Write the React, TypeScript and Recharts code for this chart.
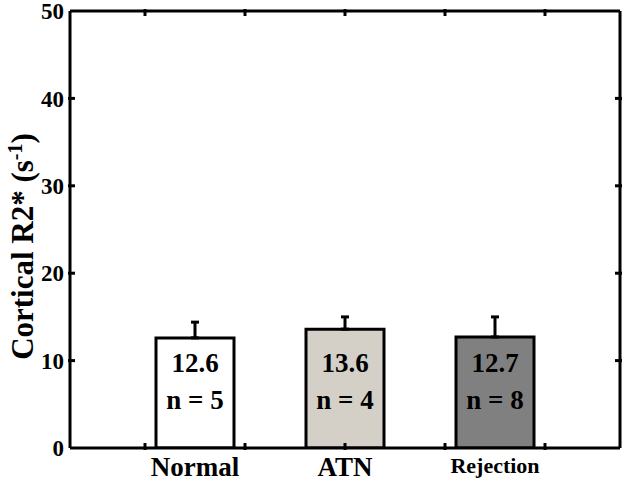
import React from 'react';
import { BarChart, Bar, XAxis, YAxis, ErrorBar, LabelList, Cell, Label } from 'recharts';

// group names and measured values
const categories = ['Normal', 'ATN', 'Rejection'];
const xPositions = [1.5, 3, 4.5];
const means = [12.6, 13.6, 12.7];
const errUp = [1.8, 1.4, 2.3];
const counts = [5, 4, 8];
const barColors = ['#ffffff', '#d4d0c8', '#808080'];
const catFontSizes = [27, 27, 22];

const yTicks = [0, 10, 20, 30, 40, 50];
const xMarks = [1, 2, 3, 4, 5];

const data = categories.map((name, i) => ({
  name,
  x: xPositions[i],
  mean: means[i],
  err: [0, errUp[i]],
  n: counts[i],
}));

const FONT = '"Liberation Serif", "Times New Roman", serif';
const MARK = 7;

function BottomMark({ x, y }: any) {
  return <line x1={x} y1={y} x2={x} y2={y - MARK} stroke="#000" strokeWidth={3} />;
}

function TopMark({ x, y }: any) {
  return <line x1={x} y1={y} x2={x} y2={y + MARK} stroke="#000" strokeWidth={3} />;
}

function LeftTick({ x, y, payload }: any) {
  const v = payload.value;
  return (
    <g>
      {v > 0 && v < 50 && <line x1={x} y1={y} x2={x + MARK} y2={y} stroke="#000" strokeWidth={3} />}
      <text x={x - 4} y={y} dy="0.36em" textAnchor="end" fontFamily={FONT} fontWeight="bold" fontSize={23} fill="#000">
        {v}
      </text>
    </g>
  );
}

function RightMark({ x, y, payload }: any) {
  const v = payload.value;
  if (v <= 0 || v >= 50) return <g />;
  return <line x1={x} y1={y} x2={x - MARK} y2={y} stroke="#000" strokeWidth={3} />;
}

function InsideLabel({ x, y, width, height, index }: any) {
  const cx = x + width / 2;
  const bottom = y + height;
  return (
    <g fontFamily={FONT} fontWeight="bold" fontSize={27} fill="#000" textAnchor="middle">
      <text x={cx} y={bottom - 76}>{means[index].toFixed(1)}</text>
      <text x={cx} y={bottom - 39}>{`n = ${counts[index]}`}</text>
    </g>
  );
}

function CategoryLabel({ x, y, width, height, index }: any) {
  const cx = x + width / 2;
  const bottom = y + height;
  return (
    <text x={cx} y={bottom + (index === 2 ? 25 : 28)} textAnchor="middle" fontFamily={FONT} fontWeight="bold" fontSize={catFontSizes[index]} fill="#000">
      {categories[index]}
    </text>
  );
}

function YTitle({ viewBox }: any) {
  const cx = viewBox.x + 22;
  const cy = viewBox.y + viewBox.height / 2 + 17;
  return (
    <text transform={`translate(${cx},${cy}) rotate(-90)`} textAnchor="middle" dy="0.35em" fontFamily={FONT} fontWeight="bold" fontSize={31} fill="#000">
      <tspan>Cortical R2* (s</tspan>
      <tspan dy={-11} fontSize={20}>-1</tspan>
      <tspan dy={11}>)</tspan>
    </text>
  );
}

export default function App() {
  return (
    <div style={{ position: 'absolute', left: 0, top: 0, background: '#fff' }}>
      <BarChart width={626} height={483} data={data} margin={{ top: 5, right: 0, bottom: 0, left: 0 }}>
        <XAxis
          dataKey="x"
          type="number"
          domain={[0.25, 5.75]}
          allowDataOverflow
          ticks={xMarks}
          interval={0}
          height={35}
          tickSize={0}
          tickLine={false}
          axisLine={{ stroke: '#000', strokeWidth: 3 }}
          tick={<BottomMark />}
        />
        <XAxis
          xAxisId="top"
          dataKey="x"
          orientation="top"
          type="number"
          domain={[0.25, 5.75]}
          allowDataOverflow
          ticks={xMarks}
          interval={0}
          height={6}
          tickSize={0}
          tickLine={false}
          axisLine={{ stroke: '#000', strokeWidth: 3 }}
          tick={<TopMark />}
        />
        <YAxis
          type="number"
          domain={[0, 50]}
          allowDataOverflow
          ticks={yTicks}
          interval={0}
          width={70}
          tickSize={0}
          tickLine={false}
          axisLine={{ stroke: '#000', strokeWidth: 3 }}
          tick={<LeftTick />}
        >
          <Label content={<YTitle />} />
        </YAxis>
        <YAxis
          yAxisId="right"
          dataKey="mean"
          orientation="right"
          type="number"
          domain={[0, 50]}
          allowDataOverflow
          ticks={yTicks}
          interval={0}
          width={6}
          tickSize={0}
          tickLine={false}
          axisLine={{ stroke: '#000', strokeWidth: 3 }}
          tick={<RightMark />}
        />
        <Bar dataKey="mean" barSize={78} stroke="#000" strokeWidth={3} isAnimationActive={false}>
          {data.map((d, i) => (
            <Cell key={d.name} fill={barColors[i]} />
          ))}
          <ErrorBar dataKey="err" direction="y" width={4} stroke="#000" strokeWidth={3} />
          <LabelList dataKey="mean" content={<InsideLabel />} />
          <LabelList dataKey="name" content={<CategoryLabel />} />
        </Bar>
      </BarChart>
    </div>
  );
}
